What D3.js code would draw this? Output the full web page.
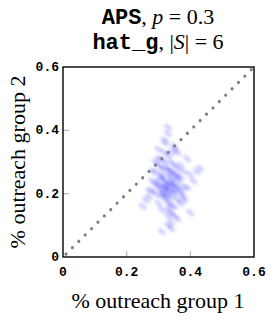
<!DOCTYPE html>
<html lang="en">
<head>
    <meta charset="UTF-8">
    <title>Outreach scatter density</title>
    <style>
        body { margin: 0; background-color: #ffffff; }
        svg { display: block; background-color: #ffffff; }
        .serif { font-family: "Liberation Serif", "DejaVu Serif", serif; }
        .mono { font-family: "Liberation Mono", "DejaVu Sans Mono", monospace; font-weight: bold; }
    </style>
    <script src="https://d3js.org/d3.v7.min.js"></script>
</head>
<body>
    <svg width="276" height="325"></svg>
    <script>
        // outreach of each sampled solution (group 1, group 2)
        const outreach1 = [0.33, 0.31, 0.35, 0.34, 0.30, 0.32, 0.36, 0.33, 0.29, 0.37,
                           0.34, 0.31, 0.35, 0.32, 0.38, 0.28, 0.33, 0.36, 0.30, 0.34,
                           0.32, 0.39, 0.27, 0.35, 0.31, 0.33, 0.37, 0.29, 0.34, 0.36,
                           0.32, 0.30, 0.38, 0.33, 0.35, 0.31, 0.40, 0.28, 0.34, 0.32,
                           0.36, 0.30, 0.33, 0.37, 0.26, 0.35, 0.31, 0.34, 0.41, 0.29,
                           0.33, 0.36, 0.32, 0.38, 0.30, 0.34, 0.35, 0.31, 0.43, 0.25,
                           0.33, 0.32, 0.34, 0.33, 0.31, 0.35, 0.32, 0.34, 0.33, 0.32,
                           0.34, 0.31, 0.33, 0.35, 0.32, 0.30, 0.36, 0.33, 0.34, 0.31,
                           0.37, 0.29, 0.35, 0.33, 0.38, 0.32, 0.36, 0.30, 0.34, 0.39,
                           0.28, 0.35, 0.33, 0.37, 0.31, 0.42, 0.34, 0.36, 0.27, 0.40];
        const outreach2 = [0.23, 0.21, 0.26, 0.19, 0.24, 0.28, 0.22, 0.17, 0.20, 0.25,
                           0.30, 0.15, 0.21, 0.33, 0.27, 0.24, 0.13, 0.18, 0.29, 0.25,
                           0.22, 0.31, 0.19, 0.35, 0.26, 0.10, 0.20, 0.27, 0.14, 0.24,
                           0.37, 0.17, 0.22, 0.28, 0.16, 0.31, 0.26, 0.21, 0.33, 0.19,
                           0.12, 0.23, 0.39, 0.29, 0.18, 0.23, 0.08, 0.27, 0.24, 0.30,
                           0.20, 0.26, 0.22, 0.18, 0.34, 0.21, 0.29, 0.25, 0.28, 0.16,
                           0.23, 0.22, 0.24, 0.21, 0.25, 0.22, 0.20, 0.23, 0.26, 0.24,
                           0.27, 0.19, 0.18, 0.20, 0.30, 0.22, 0.25, 0.32, 0.16, 0.28,
                           0.21, 0.23, 0.34, 0.15, 0.19, 0.36, 0.28, 0.31, 0.11, 0.22,
                           0.27, 0.13, 0.41, 0.17, 0.20, 0.27, 0.09, 0.33, 0.21, 0.14];
        const tickValues = [0, 0.2, 0.4, 0.6];
        const diagonal = [0, 0.6];

        const svg = d3.select("svg");
        const plotLeft = 63, plotRight = 254, plotTop = 67, plotBottom = 257;

        const x = d3.scaleLinear().domain([0, 0.6]).range([plotLeft, plotRight]);
        const y = d3.scaleLinear().domain([0, 0.6]).range([plotBottom, plotTop]);

        const defs = svg.append("defs");
        defs.append("filter").attr("id", "blur")
            .attr("x", "-50%").attr("y", "-50%").attr("width", "200%").attr("height", "200%")
            .append("feGaussianBlur").attr("stdDeviation", 1.5);
        defs.append("clipPath").attr("id", "plotclip")
            .append("rect").attr("x", plotLeft).attr("y", plotTop)
            .attr("width", plotRight - plotLeft).attr("height", plotBottom - plotTop);

        // density blobs
        const points = outreach1.map((v, i) => [v, outreach2[i]]);
        svg.append("g")
            .attr("clip-path", "url(#plotclip)")
            .append("g")
            .attr("filter", "url(#blur)")
            .selectAll("ellipse")
            .data(points)
            .join("ellipse")
            .attr("transform", d => `translate(${x(d[0])},${y(d[1])}) rotate(40)`)
            .attr("rx", 4.5)
            .attr("ry", 2.3)
            .attr("fill", "#0000ff")
            .attr("fill-opacity", 0.19);

        // ticks (inside, gray)
        const tickLen = 6;
        svg.append("g").selectAll("line")
            .data(tickValues.slice(1, 3))
            .join("line")
            .attr("x1", d => x(d)).attr("x2", d => x(d))
            .attr("y1", plotBottom).attr("y2", plotBottom - tickLen)
            .attr("stroke", "#aaaaaa").attr("stroke-width", 1);
        svg.append("g").selectAll("line")
            .data(tickValues.slice(1, 3))
            .join("line")
            .attr("y1", d => y(d)).attr("y2", d => y(d))
            .attr("x1", plotLeft).attr("x2", plotLeft + tickLen)
            .attr("stroke", "#aaaaaa").attr("stroke-width", 1);

        // dotted diagonal
        svg.append("line")
            .attr("x1", x(diagonal[0]) + 3).attr("y1", y(diagonal[0]) - 3)
            .attr("x2", x(diagonal[1])).attr("y2", y(diagonal[1]))
            .attr("stroke", "#808080")
            .attr("stroke-width", 3.2)
            .attr("stroke-linecap", "round")
            .attr("stroke-dasharray", "0.01,9");

        // frame
        svg.append("rect")
            .attr("x", plotLeft).attr("y", plotTop)
            .attr("width", plotRight - plotLeft).attr("height", plotBottom - plotTop)
            .attr("fill", "none").attr("stroke", "#000").attr("stroke-width", 1.4);

        // tick labels
        const fmt = d => d === 0 ? "0" : d.toFixed(1);
        svg.append("g").selectAll("text")
            .data(tickValues)
            .join("text")
            .attr("class", "mono")
            .attr("x", d => x(d))
            .attr("y", 276)
            .attr("text-anchor", "middle")
            .attr("font-size", 13)
            .text(fmt);
        svg.append("g").selectAll("text")
            .data(tickValues)
            .join("text")
            .attr("class", "mono")
            .attr("x", plotLeft - 4)
            .attr("y", d => y(d) + 4)
            .attr("text-anchor", "end")
            .attr("font-size", 13)
            .text(fmt);

        // axis labels
        svg.append("text")
            .attr("class", "serif")
            .attr("x", 158).attr("y", 308)
            .attr("text-anchor", "middle")
            .attr("font-size", 22)
            .text("% outreach group 1");
        svg.append("text")
            .attr("class", "serif")
            .attr("transform", "translate(25,162) rotate(-90)")
            .attr("text-anchor", "middle")
            .attr("font-size", 22)
            .text("% outreach group 2");

        // title
        const t1 = svg.append("text")
            .attr("class", "serif")
            .attr("x", 158).attr("y", 24)
            .attr("text-anchor", "middle")
            .attr("font-size", 22);
        t1.append("tspan").attr("class", "mono").text("APS");
        t1.append("tspan").text(", ");
        t1.append("tspan").attr("font-style", "italic").text("p");
        t1.append("tspan").text(" = 0.3");

        const t2 = svg.append("text")
            .attr("class", "serif")
            .attr("x", 158).attr("y", 49)
            .attr("text-anchor", "middle")
            .attr("font-size", 22);
        t2.append("tspan").attr("class", "mono").text("hat_g");
        t2.append("tspan").text(", |");
        t2.append("tspan").attr("font-style", "italic").text("S");
        t2.append("tspan").text("| = 6");
    </script>
</body>
</html>
